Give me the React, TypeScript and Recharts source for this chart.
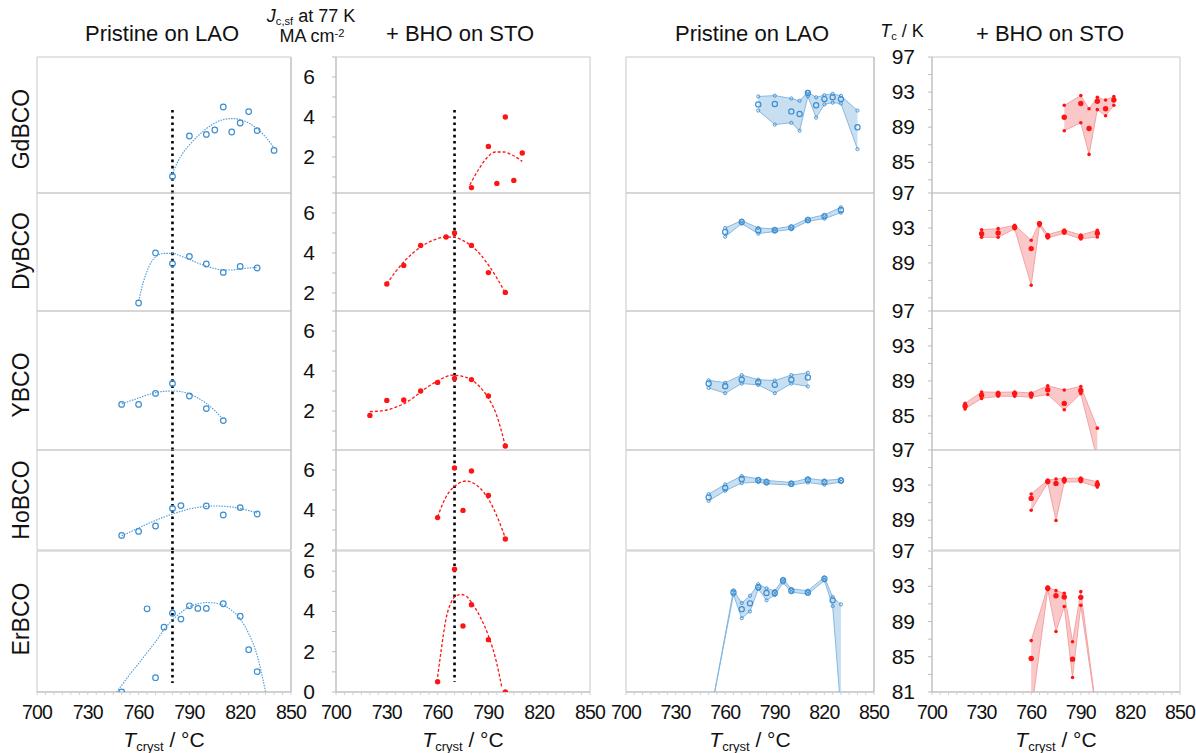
import React from 'react'
import {
  ComposedChart,
  Scatter,
  Line,
  Area,
  XAxis,
  YAxis,
  ReferenceLine,
  ReferenceArea,
} from 'recharts'

type Pt = [number, number]
type TcPt = [number, number, number | null, number] // T, upper, mid, lower

// ---- Jc (MA/cm2) vs Tcryst ----
const gdLaoJc: Pt[] = [[780, 1.03], [790, 3.05], [800, 3.13], [805, 3.35], [810, 4.5], [815, 3.25], [820, 3.7], [825, 4.27], [830, 3.32], [840, 2.33]]
const gdLaoFit: Pt[] = [[780, 1.2], [785, 2.05], [790, 2.6], [795, 3.05], [800, 3.42], [805, 3.7], [810, 3.87], [815, 3.92], [820, 3.87], [825, 3.7], [830, 3.42], [835, 3.0], [840, 2.45]]
const gdBhoJc: Pt[] = [[780, 0.47], [790, 2.53], [795, 0.68], [800, 4.0], [805, 0.83], [810, 2.2]]
const gdBhoFit: Pt[] = [[779, 0.6], [784, 1.35], [789, 1.95], [794, 2.25], [799, 2.25], [804, 2.1], [810, 1.78]]

const dyLaoJc: Pt[] = [[760, 1.5], [770, 4.0], [780, 3.47], [790, 3.83], [800, 3.45], [810, 3.03], [820, 3.33], [830, 3.25]]
const dyLaoFit: Pt[] = [[760, 1.6], [763, 2.6], [766, 3.3], [770, 3.8], [775, 3.98], [780, 3.98], [785, 3.85], [790, 3.68], [795, 3.5], [800, 3.35], [805, 3.22], [810, 3.15], [815, 3.15], [820, 3.2], [825, 3.25], [830, 3.28]]
const dyBhoJc: Pt[] = [[730, 2.45], [740, 3.38], [750, 4.38], [765, 4.8], [770, 5.0], [780, 4.38], [790, 3.02], [800, 2.03]]
const dyBhoFit: Pt[] = [[730, 2.45], [735, 3.05], [740, 3.55], [745, 3.97], [750, 4.3], [755, 4.55], [760, 4.72], [765, 4.8], [770, 4.78], [775, 4.62], [780, 4.35], [785, 3.95], [790, 3.4], [795, 2.75], [800, 2.0]]

const yLaoJc: Pt[] = [[750, 2.33], [760, 2.33], [770, 2.88], [780, 3.38], [790, 2.75], [800, 2.12], [810, 1.52]]
const yLaoFit: Pt[] = [[750, 2.35], [755, 2.5], [760, 2.65], [765, 2.8], [770, 2.92], [775, 2.98], [780, 3.0], [785, 2.97], [790, 2.85], [795, 2.65], [800, 2.38], [805, 2.02], [810, 1.58]]
const yBhoJc: Pt[] = [[720, 1.78], [730, 2.53], [740, 2.55], [750, 3.0], [760, 3.43], [770, 3.63], [780, 3.57], [790, 2.75], [800, 0.25]]
const yBhoFit: Pt[] = [[720, 1.97], [725, 1.99], [730, 2.05], [735, 2.18], [740, 2.36], [745, 2.62], [750, 2.95], [755, 3.25], [760, 3.5], [765, 3.72], [768, 3.79], [772, 3.77], [776, 3.7], [780, 3.57], [785, 3.2], [790, 2.65], [795, 1.75], [800, 0.25]]

const hoLaoJc: Pt[] = [[750, 2.73], [760, 2.93], [770, 3.2], [780, 4.08], [785, 4.22], [800, 4.2], [810, 3.75], [820, 4.12], [830, 3.8]]
const hoLaoFit: Pt[] = [[750, 2.7], [755, 2.9], [760, 3.1], [765, 3.3], [770, 3.48], [775, 3.65], [780, 3.8], [785, 3.93], [790, 4.05], [795, 4.13], [800, 4.18], [805, 4.2], [810, 4.19], [815, 4.15], [820, 4.07], [825, 3.97], [830, 3.85]]
const hoBhoJc: Pt[] = [[760, 3.62], [770, 6.1], [775, 3.98], [780, 5.95], [790, 4.73], [800, 2.55]]
const hoBhoFit: Pt[] = [[760, 3.65], [763, 4.3], [766, 4.8], [770, 5.18], [774, 5.4], [777, 5.45], [781, 5.35], [785, 5.1], [790, 4.55], [795, 3.7], [800, 2.6]]

const erLaoJc: Pt[] = [[750, 0], [765, 4.13], [770, 0.71], [775, 3.22], [780, 3.91], [785, 3.62], [790, 4.28], [795, 4.15], [800, 4.15], [810, 4.38], [820, 3.76], [825, 2.1], [830, 1.01]]
const erLaoFit: Pt[] = [[747, 0], [750, 0.33], [755, 0.9], [760, 1.41], [765, 1.96], [770, 2.49], [775, 3.1], [780, 3.57], [785, 3.95], [790, 4.23], [795, 4.38], [800, 4.44], [805, 4.42], [810, 4.31], [815, 4.05], [820, 3.62], [825, 2.9], [830, 1.82], [835, 0]]
const erBhoJc: Pt[] = [[760, 0.51], [770, 6.1], [775, 3.28], [780, 4.33], [790, 2.6], [800, 0]]
const erBhoFit: Pt[] = [[760, 0.75], [762, 2.0], [765, 3.65], [768, 4.45], [771, 4.78], [774, 4.84], [777, 4.75], [780, 4.45], [785, 3.75], [790, 2.8], [795, 1.4], [798, 0.2]]

// ---- Tc (K) vs Tcryst: upper, mid, lower ----
const gdLaoTc: TcPt[] = [[780, 92.5, 91.6, 90.9], [790, 92.6, 91.65, 89.3], [800, 92.27, 90.8, 89.5], [805, 92.0, 90.5, 88.6], [810, 93.0, 92.9, 92.53], [815, 92.4, 91.5, 90.1], [820, 92.65, 92.2, 91.6], [825, 92.8, 92.4, 91.8], [830, 92.57, 92.2, 91.7], [840, 90.9, 89.0, 86.5]]
const gdBhoTc: TcPt[] = [[780, 91.5, 90.14, 88.6], [790, 92.6, 91.7, 89.5], [795, 91.1, 88.85, 85.9], [800, 92.4, 91.96, 91.0], [805, 92.1, 91.1, 90.3], [810, 92.5, 92.1, 91.5]]
const dyLaoTc: TcPt[] = [[760, 93.0, 92.54, 92.0], [770, 93.84, 93.7, 93.5], [780, 93.0, 92.73, 92.35], [790, 92.9, 92.73, 92.6], [800, 93.2, 93.04, 92.85], [810, 94.07, 93.9, 93.76], [820, 94.5, 94.33, 94.07], [830, 95.36, 95.06, 94.75]]
const dyBhoTc: TcPt[] = [[730, 92.8, 92.35, 91.93], [740, 92.92, 92.43, 91.93], [750, 93.3, 93.08, 92.9], [760, 91.6, 90.64, 86.45], [765, 93.6, 93.5, 93.27], [770, 92.24, 92.05, 91.86], [780, 92.77, 92.58, 92.4], [790, 92.2, 91.97, 91.74], [800, 92.73, 92.4, 91.97]]
const yLaoTc: TcPt[] = [[750, 89.07, 88.7, 88.2], [760, 88.8, 88.4, 87.6], [770, 89.67, 89.15, 88.7], [780, 89.15, 88.85, 88.55], [790, 89.04, 88.55, 87.6], [800, 89.67, 89.15, 88.7], [810, 89.93, 89.4, 88.37]]
const yBhoTc: TcPt[] = [[720, 86.43, 86.14, 85.8], [730, 87.74, 87.36, 87.0], [740, 87.7, 87.5, 87.25], [750, 87.74, 87.55, 87.25], [760, 87.62, 87.44, 87.14], [770, 88.44, 88.0, 87.44], [780, 87.96, 86.43, 85.7], [790, 88.37, 87.92, 87.55], [800, 83.6, null, 80.0]]
const hoLaoTc: TcPt[] = [[750, 91.97, 91.6, 91.2], [760, 93.08, 92.66, 92.35], [770, 94.03, 93.69, 93.23], [780, 93.72, 93.57, 93.34], [785, 93.53, 93.34, 93.15], [800, 93.3, 93.15, 93.0], [810, 93.76, 93.6, 93.3], [820, 93.53, 93.34, 93.04], [830, 93.69, 93.53, 93.34]]
const hoBhoTc: TcPt[] = [[760, 91.97, 91.48, 90.14], [770, 93.57, 93.42, 93.27], [775, 93.69, 93.19, 88.96], [780, 93.76, 93.57, 93.34], [790, 93.8, 93.6, 93.38], [800, 93.38, 93.08, 92.77]]
const erLaoTc: TcPt[] = [[750, 77.4, null, 77.4], [765, 92.54, 92.3, 92.05], [770, 91.1, 90.4, 89.38], [775, 91.93, 91.06, 90.14], [780, 93.23, 92.89, 92.7], [785, 92.77, 92.24, 91.4], [790, 92.47, 92.24, 92.0], [795, 93.84, 93.65, 93.42], [800, 92.7, 92.5, 92.31], [810, 92.5, 92.3, 92.12], [820, 94.03, 93.84, 93.65], [825, 91.78, 91.4, 90.75], [830, 90.94, null, 78.8]]
const erBhoTc: TcPt[] = [[760, 86.83, 84.8, 78.6], [770, 92.92, 92.77, 92.62], [775, 92.5, 91.93, 87.86], [780, 92.2, 91.78, 90.71], [785, 86.71, 84.73, 82.64], [790, 92.39, 91.74, 90.83], [800, 78.0, null, 78.0]]

// ---- labels / ticks ----
const rowNames = ['GdBCO', 'DyBCO', 'YBCO', 'HoBCO', 'ErBCO']
const xTicks = [700, 705, 710, 715, 720, 725, 730, 735, 740, 745, 750, 755, 760, 765, 770, 775, 780, 785, 790, 795, 800, 805, 810, 815, 820, 825, 830, 835, 840, 845, 850]
const xLabels = [700, 730, 760, 790, 820, 850]
const jcTicks = [0, 1, 2, 3, 4, 5, 6, 7]
const tcTicks = [81, 83, 85, 87, 89, 91, 93, 95, 97]
const jcLabels = [[2, 4, 6], [2, 4, 6], [2, 4, 6], [2, 4, 6], [0, 2, 4, 6]]
const tcLabels = [[85, 89, 93, 97], [89, 93, 97], [85, 89, 93, 97], [89, 93, 97], [81, 85, 89, 93, 97]]
// visible value range of each row (rows are cut by the one below)
const jcLow = [0.2, 1.1, 0.05, 2, 0]
const tcLow = [81.5, 83.5, 81.1, 85.6, 81]

const jcLao = [gdLaoJc, dyLaoJc, yLaoJc, hoLaoJc, erLaoJc]
const jcLaoFit = [gdLaoFit, dyLaoFit, yLaoFit, hoLaoFit, erLaoFit]
const jcBho = [gdBhoJc, dyBhoJc, yBhoJc, hoBhoJc, erBhoJc]
const jcBhoFit = [gdBhoFit, dyBhoFit, yBhoFit, hoBhoFit, erBhoFit]
const tcLao = [gdLaoTc, dyLaoTc, yLaoTc, hoLaoTc, erLaoTc]
const tcBho = [gdBhoTc, dyBhoTc, yBhoTc, hoBhoTc, erBhoTc]

// ---- layout ----
const FONT = '"Liberation Sans", Arial, Helvetica, sans-serif'
const FRAME = '#c9c9c9'
const AXIS = '#bdbdbd'
const BLUE = '#3d8ed0'
const RED = '#ff1414'
const ROWS = [
  { top: 57, bottom: 193, label: 129 },
  { top: 193, bottom: 311, label: 251 },
  { top: 311, bottom: 450, label: 385 },
  { top: 450, bottom: 550, label: 500 },
  { top: 551, bottom: 692, label: 619 },
]
const COLS = {
  jcLao: { left: 37, width: 254 },
  jcBho: { left: 336, width: 254 },
  tcLao: { left: 626, width: 248 },
  tcBho: { left: 932, width: 248 },
}

const xTick = (props: any) => {
  const { x, y, payload } = props
  if (!xLabels.includes(payload.value)) return <g />
  return (
    <text
      x={x}
      y={y}
      dy={22}
      textAnchor="middle"
      fontSize={19.5}
      letterSpacing={-0.8}
      fontFamily={FONT}
      fill="#111"
    >
      {payload.value}
    </text>
  )
}

const yTick = (labels: number[]) => (props: any) => {
  const { x, y, payload } = props
  if (!labels.some(l => Math.abs(l - payload.value) < 1e-6)) return <g />
  return (
    <text x={x} y={y} dy={7} textAnchor="end" fontSize={21} fontFamily={FONT} fill="#111">
      {payload.value}
    </text>
  )
}

const ring = (r: number, w = 1.1) => (p: any) =>
  <circle cx={p.cx} cy={p.cy} r={r} fill="none" stroke={BLUE} strokeWidth={w} />
const dot = (r: number) => (p: any) => <circle cx={p.cx} cy={p.cy} r={r} fill={RED} />

interface PanelProps {
  row: number
  col: { left: number; width: number }
  axisSide: 'left' | 'right'
  yDomain: [number, number]
  yTicks: number[]
  yLabels: number[] | null
  labelGap: number
  children: React.ReactNode
}

function Panel({ row, col, axisSide, yDomain, yTicks, yLabels, labelGap, children }: PanelProps) {
  const { top, bottom } = ROWS[row]
  const last = row === ROWS.length - 1
  const axisW = axisSide === 'left' ? 45 : 6
  const chartLeft = axisSide === 'left' ? col.left - axisW : col.left
  const xH = last ? 32 : 0
  const ticks = yTicks.filter(t => t >= yDomain[0] - 1e-6 && t <= yDomain[1] + 1e-6)
  return (
    <div style={{ position: 'absolute', left: chartLeft, top }}>
      <ComposedChart
        width={col.width + axisW}
        height={bottom - top + xH}
        margin={{ top: 0, right: 0, bottom: 0, left: 0 }}
      >
        <XAxis
          type="number"
          dataKey="x"
          domain={[700, 850]}
          ticks={xTicks}
          interval={0}
          allowDataOverflow
          hide={!last}
          height={xH}
          tickSize={3}
          tick={xTick}
          axisLine={{ stroke: AXIS }}
          tickLine={{ stroke: '#d0d0d0' }}
        />
        <YAxis
          type="number"
          domain={yDomain}
          allowDataOverflow
          ticks={ticks}
          interval={0}
          orientation={axisSide}
          width={axisW}
          tickSize={4}
          tickMargin={labelGap}
          tick={yLabels ? yTick(yLabels) : false}
          axisLine={{ stroke: AXIS }}
          tickLine={{ stroke: AXIS }}
        />
        <ReferenceArea
          x1={700}
          x2={850}
          y1={yDomain[0]}
          y2={yDomain[1]}
          fill="none"
          stroke={FRAME}
          strokeWidth={1}
          ifOverflow="visible"
        />
        {children}
      </ComposedChart>
    </div>
  )
}

function JcPanel({ row, side }: { row: number; side: 'lao' | 'bho' }) {
  const lao = side === 'lao'
  const pts = (lao ? jcLao : jcBho)[row].map(([x, y]) => ({ x, y }))
  const fit = (lao ? jcLaoFit : jcBhoFit)[row].map(([x, y]) => ({ x, y }))
  const lo = jcLow[row]
  const refX = lao ? 780 : 770
  const dotted = { stroke: '#000', strokeWidth: 2.6, strokeDasharray: '2.6 3.6' }
  let ref
  if (row === 0) ref = <ReferenceLine segment={[{ x: refX, y: 4.35 }, { x: refX, y: lo }]} {...dotted} />
  else if (row === 4) ref = <ReferenceLine segment={[{ x: refX, y: 7 }, { x: refX, y: lao ? 0.45 : 0.5 }]} {...dotted} />
  else ref = <ReferenceLine x={refX} {...dotted} />
  return (
    <Panel
      row={row}
      col={lao ? COLS.jcLao : COLS.jcBho}
      axisSide={lao ? 'right' : 'left'}
      yDomain={[lo, 7]}
      yTicks={jcTicks}
      yLabels={lao ? null : jcLabels[row]}
      labelGap={17}
    >
      {ref}
      <Line
        data={fit}
        dataKey="y"
        type="monotone"
        dot={false}
        activeDot={false}
        stroke={lao ? '#4a9ad8' : RED}
        strokeWidth={lao ? 1.1 : 1.3}
        strokeDasharray={lao ? '1.5 1.2' : '3 2'}
        isAnimationActive={false}
      />
      <Scatter data={pts} dataKey="y" shape={lao ? ring(2.8, 1.2) : dot(2.7)} isAnimationActive={false} />
    </Panel>
  )
}

function TcPanel({ row, side }: { row: number; side: 'lao' | 'bho' }) {
  const lao = side === 'lao'
  const lo = tcLow[row]
  const raw = (lao ? tcLao : tcBho)[row]
  const band = raw.map(([x, hi, , low]) => ({ x, range: [low, hi] }))
  const inView = (v: number | null) => v !== null && v >= lo && v <= 97
  const his = raw.filter(d => inView(d[1])).map(d => ({ x: d[0], y: d[1] }))
  const mids = raw.filter(d => inView(d[2])).map(d => ({ x: d[0], y: d[2] }))
  const lows = raw.filter(d => inView(d[3])).map(d => ({ x: d[0], y: d[3] }))
  const small = lao ? ring(1.6, 0.9) : dot(1.8)
  return (
    <Panel
      row={row}
      col={lao ? COLS.tcLao : COLS.tcBho}
      axisSide={lao ? 'right' : 'left'}
      yDomain={[lo, 97]}
      yTicks={tcTicks}
      yLabels={lao ? null : tcLabels[row]}
      labelGap={13}
    >
      <Area
        data={band}
        dataKey="range"
        type="linear"
        fill={lao ? '#c2dbf0' : '#f9c2c2'}
        fillOpacity={0.9}
        stroke={lao ? '#7db2df' : '#f29c9c'}
        strokeWidth={0.9}
        dot={false}
        activeDot={false}
        isAnimationActive={false}
      />
      <Scatter data={his} dataKey="y" shape={small} isAnimationActive={false} />
      <Scatter data={lows} dataKey="y" shape={small} isAnimationActive={false} />
      <Scatter data={mids} dataKey="y" shape={lao ? ring(2.6, 1.2) : dot(2.7)} isAnimationActive={false} />
    </Panel>
  )
}

function Txt({ x, y, size, children, rotate }: { x: number; y: number; size: number; children: React.ReactNode; rotate?: boolean }) {
  return (
    <div
      style={{
        position: 'absolute',
        left: x,
        top: y,
        transform: `translate(-50%, -50%)${rotate ? ' rotate(-90deg)' : ''}`,
        fontSize: size,
        fontFamily: FONT,
        color: '#111',
        whiteSpace: 'nowrap',
        lineHeight: 1,
      }}
    >
      {children}
    </div>
  )
}

const sub = { fontSize: '0.62em', verticalAlign: '-0.25em' }
const sup = { fontSize: '0.62em', verticalAlign: '0.45em' }

function AxisTitle({ x }: { x: number }) {
  return (
    <Txt x={x} y={741} size={21}>
      <i>T</i>
      <span style={sub}>cryst</span> / °C
    </Txt>
  )
}

export default function App() {
  const rows = [0, 1, 2, 3, 4]
  return (
    <div style={{ position: 'absolute', left: 0, top: 0, width: 1196, height: 753, background: '#fff', overflow: 'hidden' }}>
      <style>{'.recharts-surface{overflow:visible}'}</style>

      <Txt x={162} y={34} size={22}>Pristine on LAO</Txt>
      <Txt x={460} y={34} size={22}>+ BHO on STO</Txt>
      <Txt x={752} y={34} size={22}>Pristine on LAO</Txt>
      <Txt x={1050} y={34} size={22}>+ BHO on STO</Txt>
      <Txt x={311} y={17} size={18}>
        <i>J</i>
        <span style={sub}>c,sf</span> at 77 K
      </Txt>
      <Txt x={312} y={36} size={18}>
        MA cm<span style={sup}>-2</span>
      </Txt>
      <Txt x={902} y={32} size={18}>
        <i>T</i>
        <span style={sub}>c</span> / K
      </Txt>

      {rows.map(r => (
        <Txt key={rowNames[r]} x={21} y={ROWS[r].label} size={23} rotate>
          {rowNames[r]}
        </Txt>
      ))}

      {rows.map(r => (
        <React.Fragment key={r}>
          <JcPanel row={r} side="lao" />
          <JcPanel row={r} side="bho" />
          <TcPanel row={r} side="lao" />
          <TcPanel row={r} side="bho" />
        </React.Fragment>
      ))}

      <AxisTitle x={164} />
      <AxisTitle x={463} />
      <AxisTitle x={750} />
      <AxisTitle x={1056} />
    </div>
  )
}
